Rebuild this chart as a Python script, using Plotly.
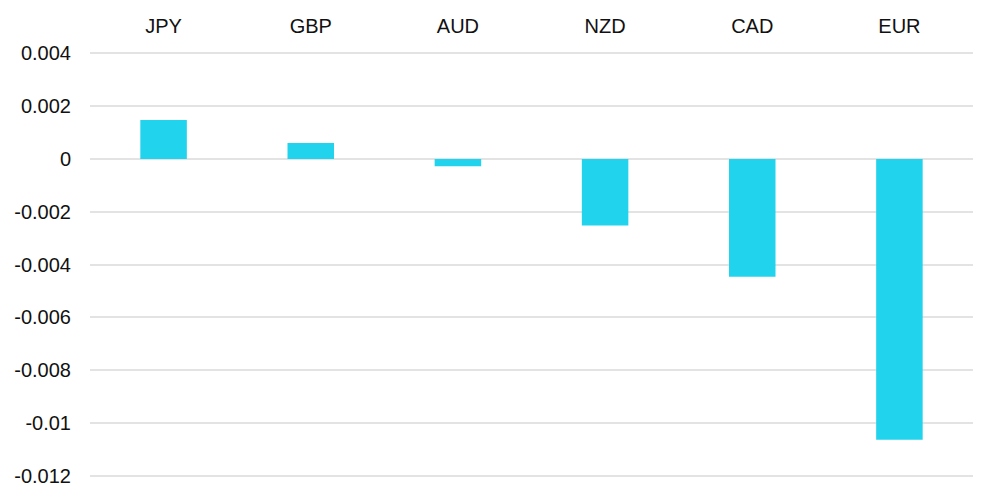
import plotly.graph_objects as go

currencies = ["JPY", "GBP", "AUD", "NZD", "CAD", "EUR"]
values = [0.00147, 0.0006, -0.00028, -0.00252, -0.00446, -0.01064]
y_ticks = [0.004, 0.002, 0, -0.002, -0.004, -0.006, -0.008, -0.01, -0.012]
y_tick_labels = ["0.004", "0.002", "0", "-0.002", "-0.004", "-0.006", "-0.008", "-0.01", "-0.012"]

fig = go.Figure(go.Bar(
    x=currencies, y=values,
    marker=dict(color="#22D3EE", line=dict(width=0)),
    hoverinfo="x+y",
))

font = dict(family="Liberation Sans, Arial, Helvetica, sans-serif", size=20, color="#111111")

fig.update_layout(
    width=1000, height=504,
    margin=dict(l=82, r=35, t=44, b=35),
    paper_bgcolor="white", plot_bgcolor="white",
    bargap=0.684,
    showlegend=False,
    font=font,
    xaxis=dict(side="top", showgrid=False, showline=False, zeroline=False,
               ticks="", ticklabelstandoff=14, tickfont=font, automargin=False),
    yaxis=dict(range=[-0.01205, 0.00405], tickvals=y_ticks, ticktext=y_tick_labels,
               showgrid=True, gridcolor="#e3e3e3", gridwidth=1.5,
               zeroline=True, zerolinecolor="#e3e3e3", zerolinewidth=1.5,
               showline=False, ticks="", ticklabelstandoff=18, tickfont=font,
               automargin=False),
)

fig.write_html("out.html")
